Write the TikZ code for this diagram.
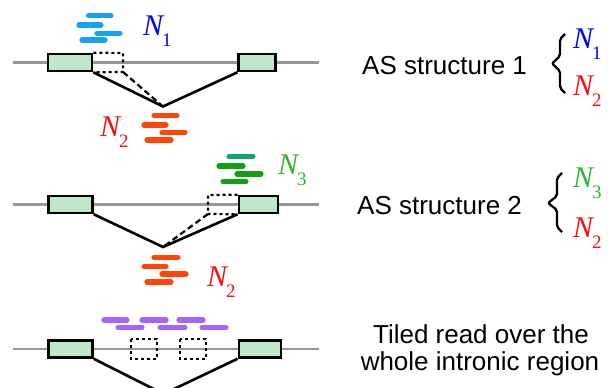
\documentclass[tikz,border=0pt]{standalone}
\usepackage{fontspec}
\setmainfont{Liberation Sans}
\newfontfamily\timesfont{Liberation Serif}
\usetikzlibrary{positioning}

\definecolor{intgray}{RGB}{150,150,150}
\definecolor{exongreen}{RGB}{190,232,200}
\definecolor{readblue}{RGB}{20,162,245}
\definecolor{readred}{RGB}{255,70,10}
\definecolor{readteal}{RGB}{20,160,120}
\definecolor{readgreen}{RGB}{20,160,20}
\definecolor{readpurple}{RGB}{170,100,245}
\definecolor{nblue}{RGB}{0,0,255}
\definecolor{nred}{RGB}{245,15,15}
\definecolor{ngreen}{RGB}{40,185,40}

% read count N_i
\newcommand{\readcount}[1]{{\timesfont\itshape N}\kern-1pt\raisebox{-11pt}{\fontsize{19}{19}\selectfont\timesfont #1}}

\begin{document}
\begin{tikzpicture}[x=1pt, y=-1pt,
  intron/.style={draw=intgray, line width=2.2pt},
  exon/.style={draw=black, line width=2.6pt, fill=exongreen, minimum height=17pt, inner sep=0pt},
  junction/.style={draw=black, line width=2.6pt},
  altbox/.style={draw=black, line width=2.2pt, dash pattern=on 3pt off 3pt},
  altjunc/.style={draw=black, line width=2.2pt, dash pattern=on 6pt off 3.5pt},
  read/.style={line width=5.2pt, line cap=round},
  count/.style={inner sep=0pt, anchor=base west, font=\fontsize{30}{30}\selectfont},
  astext/.style={inner sep=0pt, font=\fontsize{26}{30}\selectfont},
  bracket/.style={draw=black, line width=2.3pt, rounded corners=2pt}]
\useasboundingbox (0,0) rectangle (608,388);

% Structure 1
\draw[intron] (13,62.5) -- (319,62.5);
\node[exon, minimum width=44pt] (ex1a) at (70,62.5) {};
\node[exon, minimum width=36.5pt] (ex1b) at (257,62.5) {};
\coordinate (v1) at (163,106.5);
\coordinate (s1) at (123,72);
\draw[junction] (ex1a.south east) -- (v1) -- (ex1b.south west);
\draw[altbox] (ex1a.north east) -- (123,53) -- (s1) -- (ex1a.south east);
\draw[altjunc] (s1) -- (v1);

% Reads
\foreach \xa/\xb/\y in {88.5/111/15.7, 79/101/25, 97/120/33.3, 82/105/40}
  \draw[read, readblue] (\xa,\y) -- (\xb,\y);
\foreach \xa/\xb/\y in {154/177/115.7, 144/166/125, 162/185/132.5, 147/171/140}
  \draw[read, readred] (\xa,\y) -- (\xb,\y);
\node[count, nblue] (n1a) at (143,35) {\readcount{1}};
\node[count, nred] (n2a) at (100,136) {\readcount{2}};

% Structure 2
\draw[intron] (13,204.5) -- (319,204.5);
\node[exon, minimum width=44pt] (ex2a) at (70.5,204.5) {};
\node[exon, minimum width=39pt] (ex2b) at (258.3,204.5) {};
\coordinate (v2) at (163,247);
\coordinate (s2) at (208,214);
\draw[junction] (ex2a.south east) -- (v2) -- (ex2b.south west);
\draw[altbox] (ex2b.north west) -- (208,195) -- (s2) -- (ex2b.south west);
\draw[altjunc] (s2) -- (v2);

% Reads
\draw[read, readteal] (229,156.7) -- (253,156.7);
\foreach \xa/\xb/\y in {219/243/166, 237/261/174, 223/246/181.7}
  \draw[read, readgreen] (\xa,\y) -- (\xb,\y);
\foreach \xa/\xb/\y in {154/178/257.3, 144/166/266.7, 162/186/274, 147/171/282}
  \draw[read, readred] (\xa,\y) -- (\xb,\y);
\node[count, ngreen] (n3b) at (278,174) {\readcount{3}};
\node[count, nred] (n2b) at (207,286) {\readcount{2}};

% Tiled
\draw[intron] (13,349) -- (319,349);
\node[exon, minimum width=44pt] (ex3a) at (70.5,349) {};
\node[exon, minimum width=42pt] (ex3b) at (259.8,349) {};
\coordinate (v3) at (163.5,394);
\draw[junction] (ex3a.south east) -- (v3) -- (ex3b.south west);
\draw[altbox] (131,339) rectangle (157,359);
\draw[altbox] (180,339) rectangle (206,359);
\foreach \xa/\xb/\y in {104/127/320, 142/166/320, 179/203/320,
                        118/142/327.7, 160/185/327.7, 202/226/327.7}
  \draw[read, readpurple] (\xa,\y) -- (\xb,\y);

% Right side
\node[astext, anchor=base west] (as1) at (362,74) {AS structure 1};
\draw[bracket] (565,34) -- (560,39) -- (560,56) -- (552,63.5) -- (560,71) -- (560,88) -- (565,93);
\node[count, nblue] (n1r) at (573,48) {\readcount{1}};
\node[count, nred] (n2r) at (573,95) {\readcount{2}};

\node[astext, anchor=base west] (as2) at (357,214) {AS structure 2};
\draw[bracket] (562,173) -- (557,178) -- (557,196) -- (548,203) -- (557,210) -- (557,227) -- (562,232);
\node[count, ngreen] (n3r) at (573,187) {\readcount{3}};
\node[count, nred] (n2s) at (573,237) {\readcount{2}};

\node[astext, anchor=base] (tiled1) at (481,343) {Tiled read over the};
\node[astext, anchor=base] (tiled2) at (480,370) {whole intronic region};
\end{tikzpicture}
\end{document}
